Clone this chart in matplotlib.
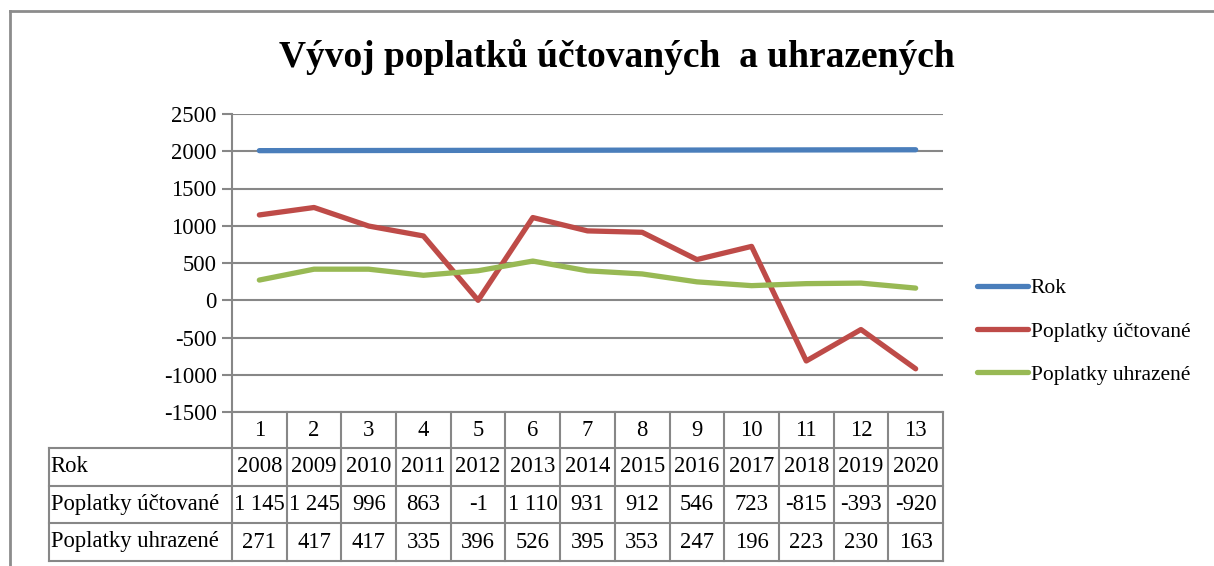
import matplotlib.pyplot as plt
from matplotlib.transforms import blended_transform_factory
from matplotlib.lines import Line2D

# data
categories = list(range(1, 14))
rok = [2008, 2009, 2010, 2011, 2012, 2013, 2014, 2015, 2016, 2017, 2018, 2019, 2020]
uctovane = [1145, 1245, 996, 863, -1, 1110, 931, 912, 546, 723, -815, -393, -920]
uhrazene = [271, 417, 417, 335, 396, 526, 395, 353, 247, 196, 223, 230, 163]
uctovane_txt = ['1 145', '1 245', '996', '863', '-1', '1 110', '931', '912', '546', '723', '-815', '-393', '-920']
series_names = ['Rok', 'Poplatky účtované', 'Poplatky uhrazené']
colors = ['#4A7EBB', '#BE4B48', '#98B954']
yticks = [-1500, -1000, -500, 0, 500, 1000, 1500, 2000, 2500]

plt.rcParams['font.family'] = ['Liberation Serif', 'DejaVu Serif']
W, H = 1214, 566
fig = plt.figure(figsize=(W / 100, H / 100), dpi=100)

# outer chart frame (top and left edge visible)
fig.add_artist(Line2D([10 / W, 10 / W], [0, 1 - 11 / H], color='#8c8c8c', lw=2))
fig.add_artist(Line2D([10 / W, 1], [1 - 11 / H, 1 - 11 / H], color='#8c8c8c', lw=2))

ax = fig.add_axes([232 / W, 1 - 412 / H, (943 - 232) / W, (412 - 114) / H])
grid_c = '#878787'
fs = 16.3

for vals, name, c in zip([rok, uctovane, uhrazene], series_names, colors):
    ax.plot(categories, vals, color=c, lw=3.8, label=name, solid_capstyle='round')

ax.set_xlim(0.5, 13.5)
ax.set_ylim(-1500, 2500)
ax.set_yticks(yticks)
ax.set_yticklabels([str(v) for v in yticks], fontsize=fs)
ax.yaxis.grid(True, color=grid_c, lw=1.5)
ax.set_axisbelow(True)
ax.tick_params(axis='y', length=7, width=1.5, color=grid_c, pad=4)
ax.set_xticks([])
for s in ['top', 'right']:
    ax.spines[s].set_visible(False)
ax.spines['left'].set_color(grid_c)
ax.spines['left'].set_linewidth(1.5)
ax.spines['bottom'].set_color(grid_c)
ax.spines['bottom'].set_linewidth(1.5)

fig.text(617 / W, 1 - 57 / H, 'Vývoj poplatků účtovaných  a uhrazených',
         ha='center', va='center', fontsize=27, fontweight='bold')

# data table under the plot
tr = blended_transform_factory(ax.transData, ax.transAxes)
ph = 412 - 114


def yf(px):
    return (412 - px) / ph


rows_px = [412, 448, 486, 523, 561]
x_left = 0.5 - (232 - 49) / ((943 - 232) / 13)
lkw = dict(color=grid_c, lw=1.5, transform=tr, clip_on=False)

# horizontal lines
for yp in rows_px[1:]:
    ax.plot([x_left, 13.5], [yf(yp), yf(yp)], **lkw)
# vertical lines
for b in [c - 0.5 for c in categories] + [13.5]:
    ax.plot([b, b], [0, yf(rows_px[-1])], **lkw)
ax.plot([x_left, x_left], [yf(rows_px[1]), yf(rows_px[-1])], **lkw)

row_texts = [[str(c) for c in categories], [str(r) for r in rok], uctovane_txt,
             [str(v) for v in uhrazene]]
for r, texts in enumerate(row_texts):
    ymid = yf((rows_px[r] + rows_px[r + 1]) / 2)
    for c, t in zip(categories, texts):
        ax.text(c, ymid, t, ha='center', va='center', fontsize=fs, transform=tr)
    if r > 0:
        ax.text(x_left + 0.03, ymid, series_names[r - 1], ha='left', va='center',
                fontsize=fs, transform=tr)

leg = fig.legend(loc='upper left', bbox_to_anchor=(958 / W, 1 - 259 / H), frameon=False,
                 fontsize=15.5, handlelength=2.35, handletextpad=0.12, labelspacing=1.07)

fig.savefig('out.png', dpi=100)
